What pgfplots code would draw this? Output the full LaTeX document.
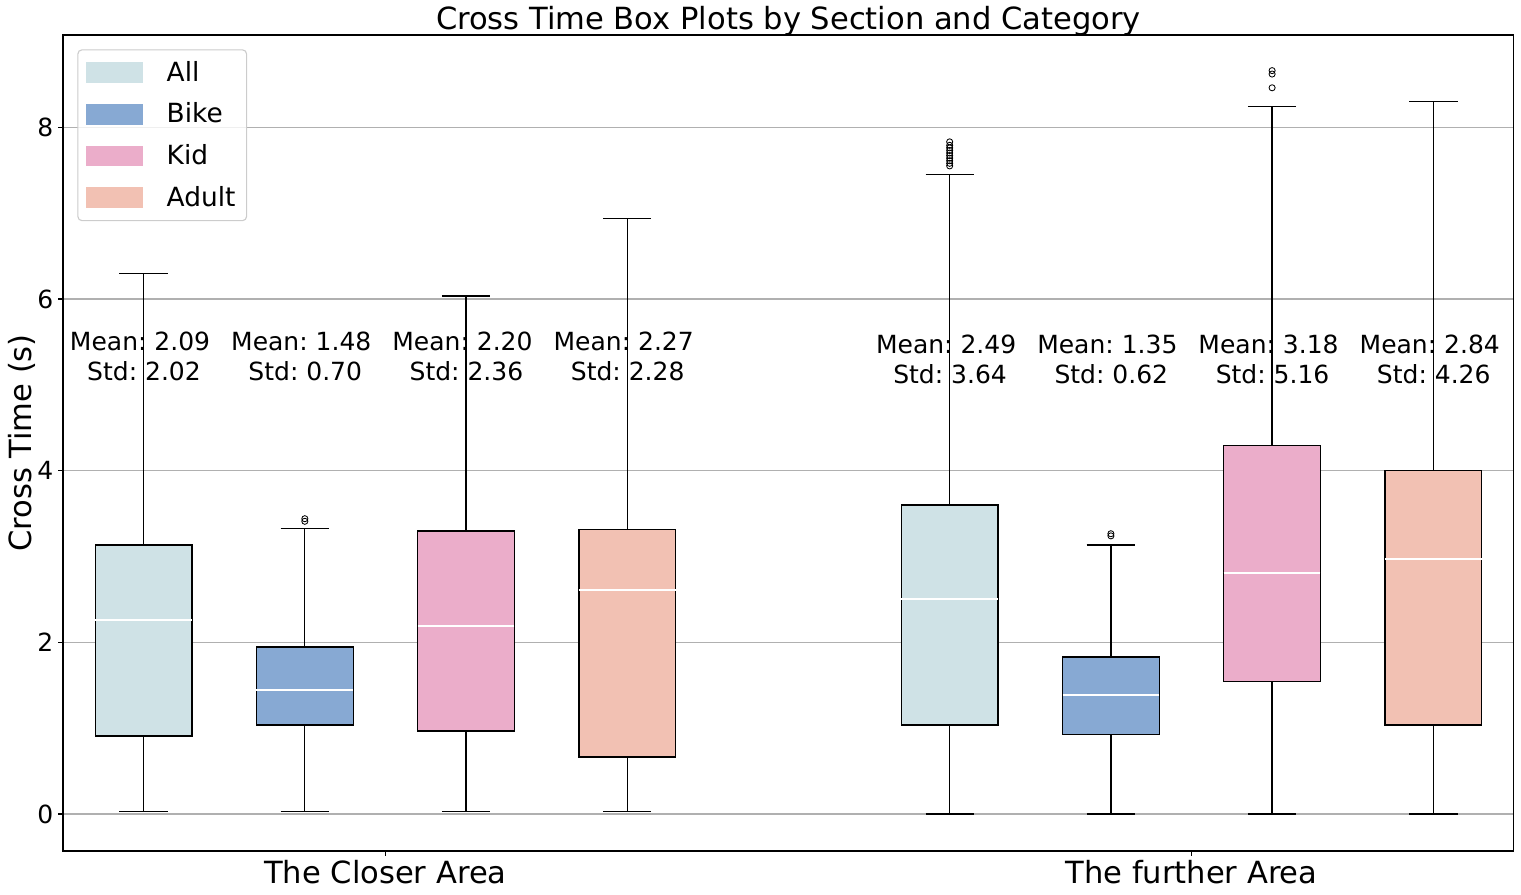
\documentclass[border=0pt]{standalone}
\usepackage{fontspec}
\setmainfont{DejaVu Sans}
\usepackage{pgfplots}
\pgfplotsset{compat=1.18}
\usepgfplotslibrary{statistics}
\definecolor{cAll}{HTML}{CFE2E6}
\definecolor{cBike}{HTML}{87A9D3}
\definecolor{cKid}{HTML}{EBADCA}
\definecolor{cAdult}{HTML}{F2C1B3}
\definecolor{gridgray}{HTML}{B0B0B0}
\definecolor{legframe}{HTML}{CCCCCC}
\frenchspacing
\pgfplotsset{
  mybox/.style={draw=black, line width=0.9pt, mark=o, mark size=2.2pt,
    mark options={black, line width=0.6pt, fill=none},
    boxplot/draw direction=y,
    boxplot/every median/.style={draw=white, line width=1.8pt}},
  legpatch/.style={legend image code/.code={\fill[#1, sharp corners, fill opacity=1, draw=none] (0pt,-7.5pt) rectangle (41pt,7.5pt);}},
}
\begin{document}
\begin{tikzpicture}
\useasboundingbox (-45.36pt,-30.96pt) rectangle (1049.76pt,612.72pt);
\begin{axis}[
  at={(0,0)}, anchor=south west,
  scale only axis, width=1044.72pt, height=587.52pt,
  xmin=0.5, xmax=9.5, ymin=-0.431, ymax=9.075,
  xtick={2.5,7.5}, xticklabels={The Closer Area,The further Area},
  ytick={0,2,4,6,8},
  tick align=outside, tick pos=left, major tick length=3.5pt,
  every tick/.style={black, line width=0.8pt},
  ymajorgrids, grid style={gridgray, line width=0.8pt},
  axis line style={line width=0.8pt},
  /pgf/number format/assume math mode=true,
  yticklabel style={font=\fontsize{18}{21}\selectfont},
  xticklabel style={font=\fontsize{22}{26}\selectfont},
  ylabel={Cross Time (s)},
  every axis y label/.style={at={(axis description cs:-0.0282,0.5)}, rotate=90, anchor=center, font=\fontsize{22}{26}\selectfont},
  title={Cross Time Box Plots by Section and Category},
  title style={font=\fontsize{22}{26}\selectfont, yshift=-10.5pt},
  boxplot/box extend=0.6,
  boxplot/whisker extend=0.3,
  legend style={at={(axis description cs:0.00985,0.9825)}, anchor=north west,
    draw=legframe, rounded corners=3pt, fill=white, fill opacity=0.8, text opacity=1,
    font=\fontsize{19}{23}\selectfont, inner xsep=6pt, inner ysep=6.5pt, row sep=10pt,
    column sep=15pt,
    line width=0.8pt, cells={anchor=west},
    nodes={inner sep=2pt, text height=14pt, text depth=2pt}},
]
\addlegendimage{legpatch=cAll}
\addlegendentry{All}
\addlegendimage{legpatch=cBike}
\addlegendentry{Bike}
\addlegendimage{legpatch=cKid}
\addlegendentry{Kid}
\addlegendimage{legpatch=cAdult}
\addlegendentry{Adult}

% The Closer Area
\addplot[mybox, fill=cAll, forget plot, boxplot prepared={lower whisker=0.03, lower quartile=0.91, median=2.26, upper quartile=3.135, upper whisker=6.30, draw position=1}] coordinates {};
\addplot[mybox, fill=cBike, forget plot, boxplot prepared={lower whisker=0.03, lower quartile=1.037, median=1.445, upper quartile=1.945, upper whisker=3.33, draw position=2}] table[row sep=\\, y index=0] {3.41\\3.44\\};
\addplot[mybox, fill=cKid, forget plot, boxplot prepared={lower whisker=0.03, lower quartile=0.967, median=2.19, upper quartile=3.297, upper whisker=6.034, draw position=3}] coordinates {};
\addplot[mybox, fill=cAdult, forget plot, boxplot prepared={lower whisker=0.03, lower quartile=0.664, median=2.61, upper quartile=3.31, upper whisker=6.94, draw position=4}] coordinates {};
% The further Area
\addplot[mybox, fill=cAll, forget plot, boxplot prepared={lower whisker=0, lower quartile=1.037, median=2.505, upper quartile=3.60, upper whisker=7.45, draw position=6}] table[row sep=\\, y index=0] {7.55\\7.58\\7.61\\7.64\\7.67\\7.70\\7.73\\7.76\\7.79\\7.83\\};
\addplot[mybox, fill=cBike, forget plot, boxplot prepared={lower whisker=0, lower quartile=0.93, median=1.386, upper quartile=1.83, upper whisker=3.135, draw position=7}] table[row sep=\\, y index=0] {3.24\\3.265\\};
\addplot[mybox, fill=cKid, forget plot, boxplot prepared={lower whisker=0, lower quartile=1.54, median=2.81, upper quartile=4.29, upper whisker=8.24, draw position=8}] table[row sep=\\, y index=0] {8.46\\8.62\\8.66\\};
\addplot[mybox, fill=cAdult, forget plot, boxplot prepared={lower whisker=0, lower quartile=1.037, median=2.97, upper quartile=4.00, upper whisker=8.30, draw position=9}] coordinates {};

\begin{scope}[every node/.style={align=center, font=\fontsize{18}{21.6}\selectfont, inner sep=0pt}]
\node at (axis cs:0.978,5.33) {Mean: 2.09\\\mbox{}\ Std: 2.02};
\node at (axis cs:1.978,5.33) {Mean: 1.48\\\mbox{}\ Std: 0.70};
\node at (axis cs:2.978,5.33) {Mean: 2.20\\\mbox{}\ Std: 2.36};
\node at (axis cs:3.978,5.33) {Mean: 2.27\\\mbox{}\ Std: 2.28};
\node at (axis cs:5.978,5.30) {Mean: 2.49\\\mbox{}\ Std: 3.64};
\node at (axis cs:6.978,5.30) {Mean: 1.35\\\mbox{}\ Std: 0.62};
\node at (axis cs:7.978,5.30) {Mean: 3.18\\\mbox{}\ Std: 5.16};
\node at (axis cs:8.978,5.30) {Mean: 2.84\\\mbox{}\ Std: 4.26};
\end{scope}
\end{axis}
\end{tikzpicture}
\end{document}
